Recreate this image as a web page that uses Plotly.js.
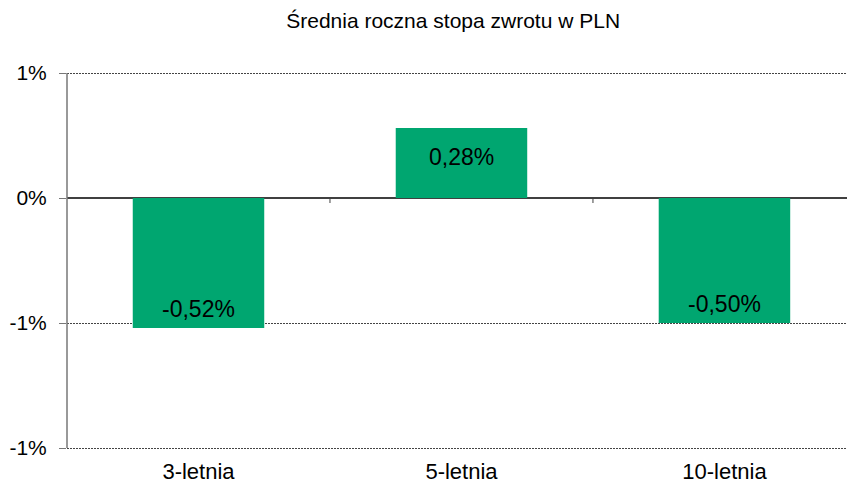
<!DOCTYPE html>
<html>
<head>
<meta charset="utf-8">
<script src="https://cdn.plot.ly/plotly-3.0.1.min.js"></script>
<style>html,body{margin:0;padding:0;background:#fff;}#chart{width:847px;height:485px;}</style>
</head>
<body>
<div id="chart"></div>
<script>
var categories = ["3-letnia", "5-letnia", "10-letnia"];
var values = [-0.52, 0.28, -0.50];
var tickValues = [0.5, 0, -0.5, -1];
var tickLabels = ["1%", "0%", "-1%", "-1%"];
var chartTitle = "Średnia roczna stopa zwrotu w PLN";

var labels = values.map(function (v) { return v.toFixed(2).replace('.', ',') + '%'; });
var font = "Liberation Sans, Arial, sans-serif";
var yMin = tickValues[tickValues.length - 1], yMax = tickValues[0];
var pad = 0.012;

var trace = {
  type: 'bar',
  x: [0, 1, 2],
  y: values,
  width: 0.5,
  marker: {color: '#00A670', line: {width: 0}},
  hoverinfo: 'skip'
};

var labelAnnotations = values.map(function (v, i) {
  return {xref: 'x', yref: 'y', x: i, y: v, text: labels[i], showarrow: false,
          xanchor: 'center', yanchor: 'middle', yshift: v > 0 ? -29 : 19,
          font: {family: font, size: 23, color: '#000'}};
});

var shapes = [0.5, 1.5].map(function (x) {
  return {type: 'line', xref: 'x', yref: 'y', ysizemode: 'pixel', yanchor: 0,
          x0: x, x1: x, y0: 0, y1: -5, line: {color: '#404040', width: 1}};
});
// y axis line spanning exactly the tick range
shapes.push({type: 'line', xref: 'paper', yref: 'y', x0: 0, x1: 0, y0: yMin, y1: yMax,
             line: {color: '#777', width: 1.5}});

var layout = {
  width: 847, height: 485,
  margin: {l: 67, r: 0, t: 70, b: 34},
  paper_bgcolor: '#fff', plot_bgcolor: '#fff',
  showlegend: false,
  title: {text: chartTitle, font: {family: font, size: 21, color: '#000'},
          x: 0.535, xanchor: 'center', y: 0.958, yanchor: 'middle'},
  xaxis: {
    range: [-0.5, 2.466],
    tickvals: [0, 1, 2], ticktext: categories,
    showgrid: false, zeroline: false, showline: false, ticks: '',
    tickfont: {family: font, size: 22, color: '#000'},
    ticklabelstandoff: 5,
    fixedrange: true
  },
  yaxis: {
    range: [yMin - pad, yMax + pad],
    tickvals: tickValues, ticktext: tickLabels,
    showgrid: true, gridcolor: '#444', griddash: '2px,1px', gridwidth: 1,
    zeroline: true, zerolinecolor: '#404040', zerolinewidth: 1.5,
    showline: false,
    ticks: 'outside', ticklen: 7, tickcolor: '#777', tickwidth: 1,
    tickfont: {family: font, size: 21, color: '#000'},
    ticklabelstandoff: 8,
    fixedrange: true
  },
  annotations: labelAnnotations,
  shapes: shapes
};

Plotly.newPlot('chart', [trace], layout, {displayModeBar: false, staticPlot: true});
</script>
</body>
</html>
